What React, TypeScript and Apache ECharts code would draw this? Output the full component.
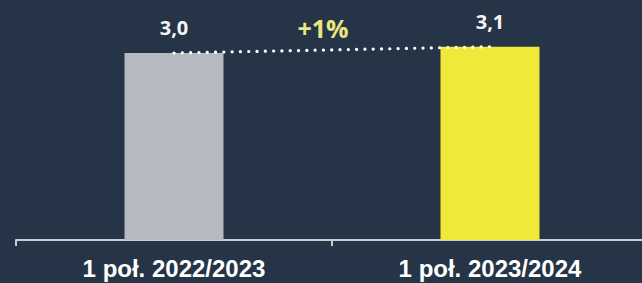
import React, { useEffect, useRef } from "react";
import * as echarts from "echarts";

const categories = ["1 poł. 2022/2023", "1 poł. 2023/2024"];
const values = [3.0, 3.1];
const barColors = ["#b6b9c1", "#f0e93a"];
const changeLabel = "+1%";

export default function App() {
  const ref = useRef<HTMLDivElement>(null);
  useEffect(() => {
    document.body.style.margin = "0";
    const chart = echarts.init(ref.current!, null, { renderer: "svg" });
    chart.setOption({
      animation: false,
      backgroundColor: "#253547",
      grid: { left: 16, top: 0, width: 632, bottom: 43, containLabel: false, outerBoundsMode: "none" },
      xAxis: {
        type: "category",
        data: categories,
        axisLine: { lineStyle: { color: "#c9cbcf", width: 2 } },
        axisTick: { show: true, length: 6, lineStyle: { color: "#c9cbcf", width: 2 } },
        axisLabel: {
          color: "#ffffff",
          fontFamily: "Liberation Sans",
          fontWeight: "bold",
          fontSize: 24,
          margin: 16,
        },
      },
      yAxis: {
        type: "value",
        min: 0,
        max: 3.85,
        show: false,
        splitLine: { show: false },
      },
      series: [
        {
          type: "bar",
          barWidth: 99,
          data: values.map((v, i) => ({ value: v, itemStyle: { color: barColors[i] } })),
          label: {
            show: true,
            position: "top",
            distance: 15,
            color: "#f4f4f4",
            fontFamily: "Open Sans",
            fontWeight: "bold",
            fontSize: 20,
            formatter: (p: any) => p.value.toFixed(1).replace(".", ","),
          },
        },
        {
          type: "line",
          data: values,
          symbol: "none",
          z: 5,
          lineStyle: { color: "#ffffff", width: 3.2, type: [0.1, 8.2], cap: "round" },
        },
      ],
      graphic: [
        {
          type: "text",
          x: 323,
          y: 28,
          style: {
            text: changeLabel,
            fill: "#ece680",
            font: "bold 25px 'Open Sans'",
            textAlign: "center",
            textVerticalAlign: "middle",
          },
        },
      ],
    });
    return () => chart.dispose();
  }, []);
  return <div ref={ref} style={{ width: 642, height: 283 }} />;
}
